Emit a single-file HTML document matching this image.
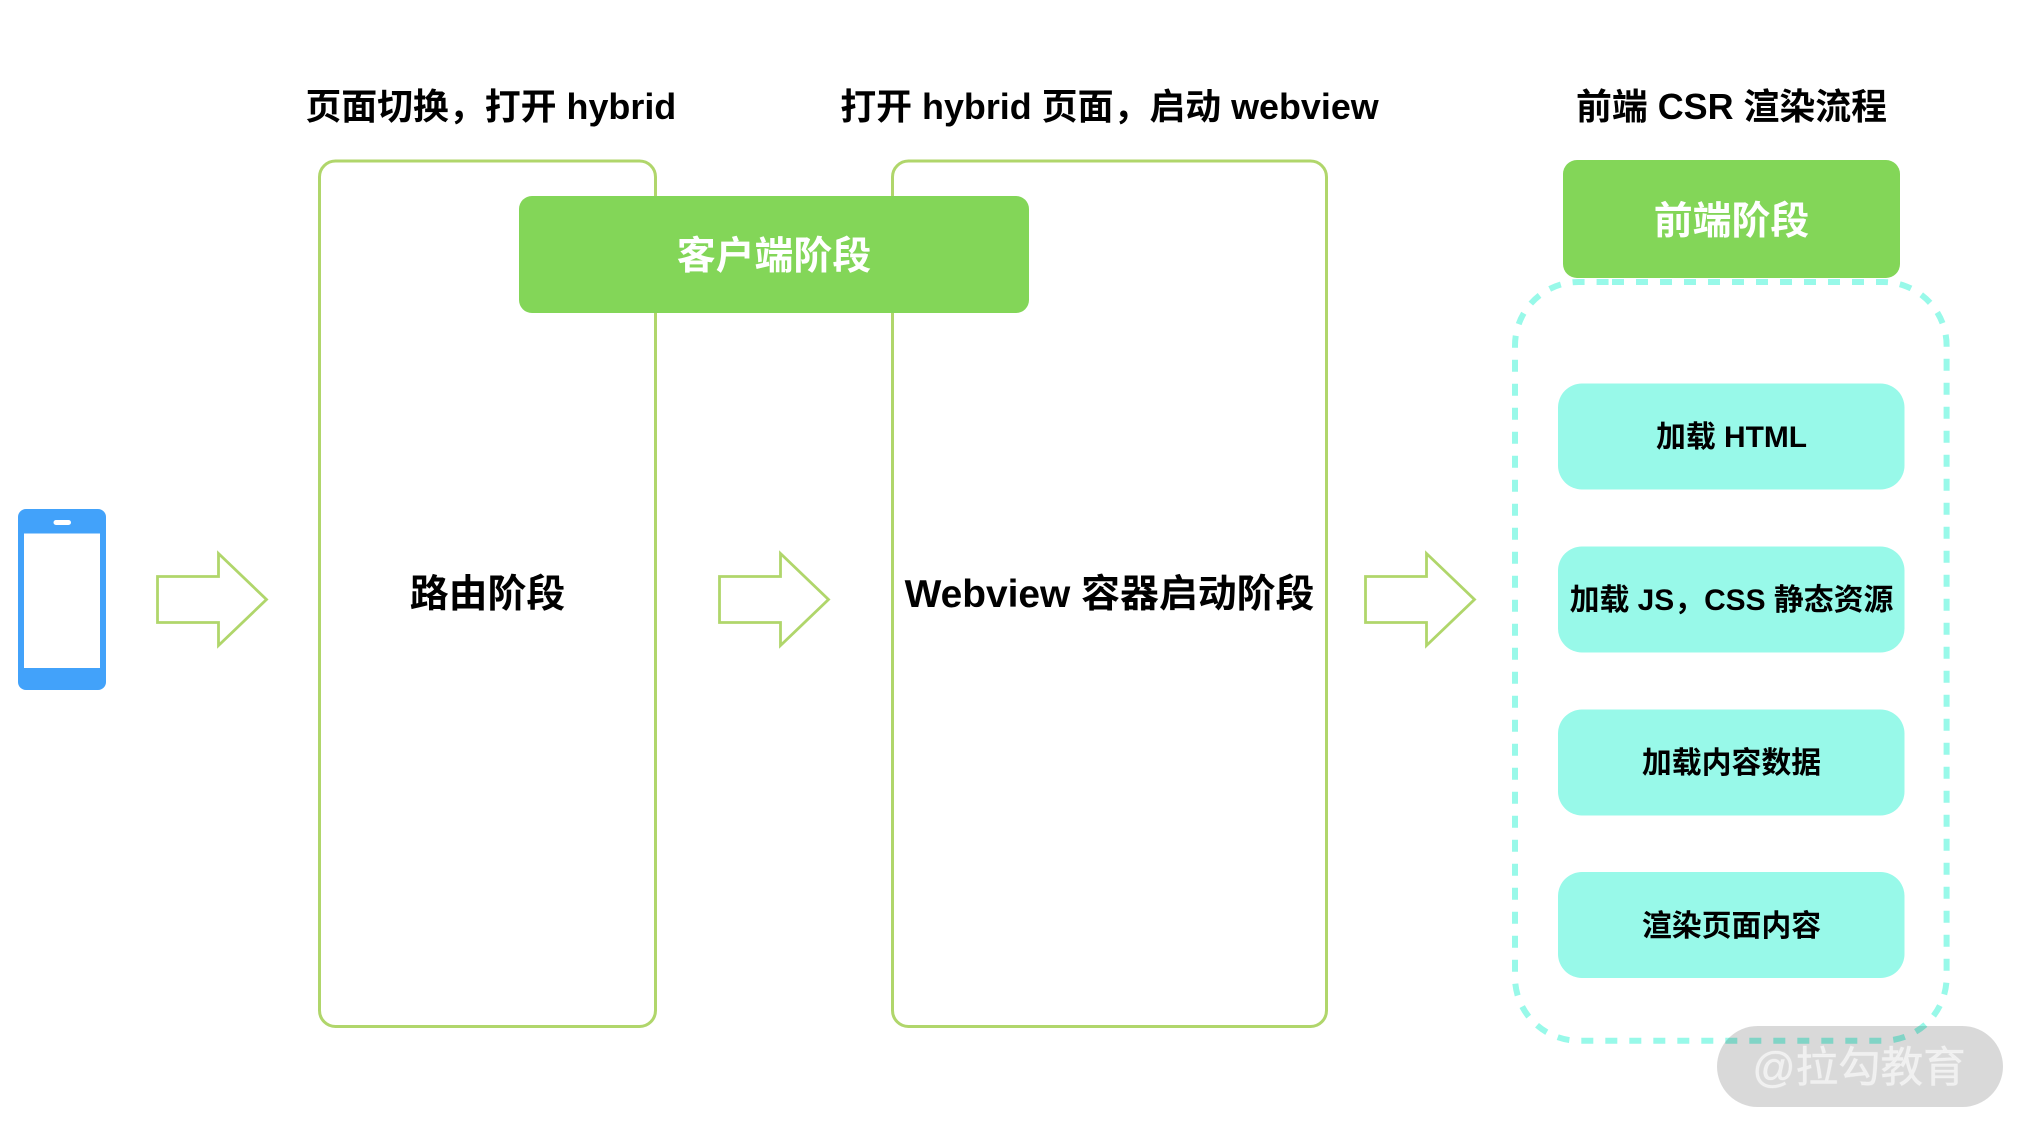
<!DOCTYPE html>
<html lang="zh">
<head>
<meta charset="utf-8">
<title>Hybrid flow</title>
<style>
html,body{margin:0;padding:0;background:#fff;width:2030px;height:1134px;overflow:hidden}
svg{display:block}
text{font-family:"Liberation Sans","Noto Sans CJK SC",sans-serif;font-weight:700;text-anchor:middle;fill:#000}
.t{font-size:35.9px}
.l{font-size:38.9px;font-weight:700}
.w{fill:#fff}
.s{font-size:29.9px}
</style>
</head>
<body>
<svg width="2030" height="1134" viewBox="0 0 2030 1134" xmlns="http://www.w3.org/2000/svg">
<rect width="2030" height="1134" fill="#fff"/>

<text class="t" x="490.8" y="119">页面切换，打开 hybrid</text>
<text class="t" x="1109.5" y="119">打开 hybrid 页面，启动 webview</text>
<text class="t" x="1731.5" y="119">前端 CSR 渲染流程</text>

<rect x="319.5" y="161" width="336" height="865.5" rx="16" fill="#fff" stroke="#b0d66b" stroke-width="3"/>
<rect x="892.5" y="161" width="434" height="865.5" rx="16" fill="#fff" stroke="#b0d66b" stroke-width="3"/>

<rect x="519" y="196" width="510" height="117" rx="13" fill="#83d658"/>
<text class="l w" x="774" y="269">客户端阶段</text>

<rect x="1563" y="160" width="337" height="118" rx="14" fill="#83d658"/>
<text class="l w" x="1731.5" y="234">前端阶段</text>

<text class="l" x="487.5" y="607">路由阶段</text>
<text class="l" x="1109.5" y="607">Webview 容器启动阶段</text>

<!-- phone -->
<rect x="18" y="509" width="88" height="181" rx="8" fill="#42a2fa"/>
<rect x="24" y="533.5" width="76" height="134.5" fill="#fff"/>
<rect x="53.5" y="520" width="17.5" height="5" rx="2.5" fill="#fff"/>

<!-- arrows -->
<g fill="#fff" stroke="#b0d66b" stroke-width="2.8" stroke-linejoin="miter">
<path d="M157.5 576.5H218.5V553.5L266.5 599.5L218.5 645.5V622.5H157.5Z"/>
<path d="M719.5 576.5H780.5V553.5L828.5 599.5L780.5 645.5V622.5H719.5Z"/>
<path d="M1365.5 576.5H1426.5V553.5L1474.5 599.5L1426.5 645.5V622.5H1365.5Z"/>
</g>

<!-- dashed group -->
<path d="M1612 282H1883.1A63.5 63.5 0 0 1 1946.6 345.5V977.2A63.5 63.5 0 0 1 1883.1 1040.7H1578.5A63.5 63.5 0 0 1 1515 977.2V345.5A63.5 63.5 0 0 1 1578.5 282Z" fill="none" stroke="#98f9e9" stroke-width="6" stroke-dasharray="12 12"/>

<!-- teal items -->
<g fill="#98f9e9">
<rect x="1558" y="383.5" width="346.5" height="106" rx="24"/>
<rect x="1558" y="546.5" width="346.5" height="106" rx="24"/>
<rect x="1558" y="709.5" width="346.5" height="106" rx="24"/>
<rect x="1558" y="872" width="346.5" height="106" rx="24"/>
</g>
<text class="s" x="1731.5" y="447">加载 HTML</text>
<text class="s" x="1731.5" y="610">加载 JS，CSS 静态资源</text>
<text class="s" x="1731.5" y="773">加载内容数据</text>
<text class="s" x="1731.5" y="936">渲染页面内容</text>

<!-- watermark -->
<rect x="1717" y="1026" width="286" height="81" rx="40.5" fill="#000" fill-opacity="0.15"/>
<text x="1859" y="1082" style="font-size:42.5px;font-weight:400;fill:#fff;fill-opacity:.6;stroke:#fff;stroke-opacity:.25;stroke-width:1">@拉勾教育</text>
</svg>
</body>
</html>
